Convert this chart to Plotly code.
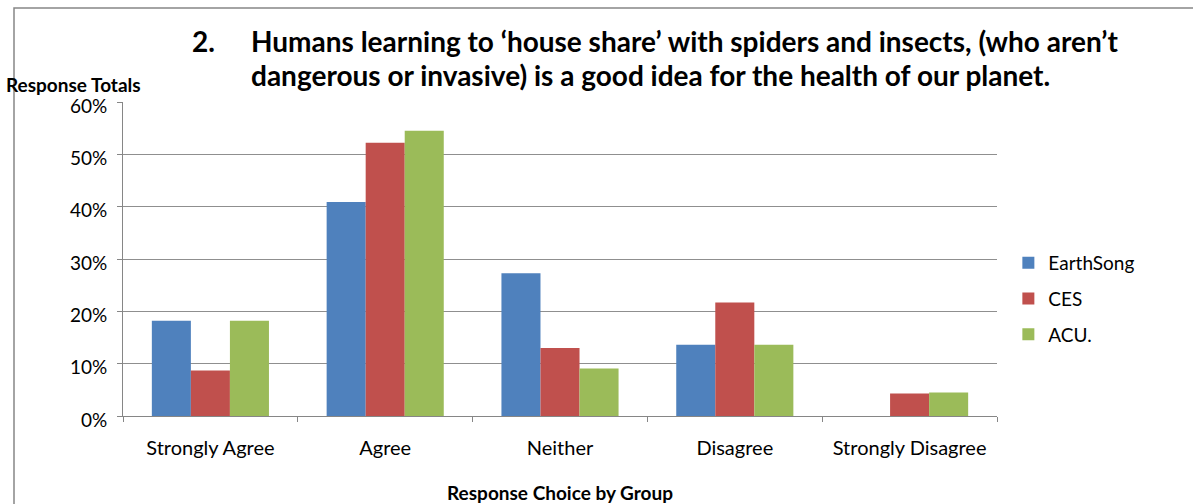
import plotly.graph_objects as go

categories = ["Strongly Agree", "Agree", "Neither", "Disagree", "Strongly Disagree"]
earthsong = [18.2, 40.9, 27.3, 13.6, 0.0]
ces = [8.7, 52.2, 13.0, 21.7, 4.3]
acu = [18.2, 54.5, 9.1, 13.6, 4.5]
series = [("EarthSong", earthsong, "#4F81BD"), ("CES", ces, "#C0504D"), ("ACU.", acu, "#9BBB59")]
y_ticks = [0, 10, 20, 30, 40, 50, 60]
y_tick_labels = ["0%", "10%", "20%", "30%", "40%", "50%", "60%"]

FONT = "Lato"
fig = go.Figure()
for name, vals, col in series:
    fig.add_trace(go.Bar(x=categories, y=vals, name=name, marker=dict(color=col, line=dict(width=0)),
                         legendgroup=name))

fig.update_layout(
    width=1193, height=504,
    margin=dict(l=123, r=196, t=102, b=88),
    paper_bgcolor="white", plot_bgcolor="white",
    font=dict(family=FONT, size=19, color="#000000"),
    barmode="group", bargap=0.33, bargroupgap=0,
    showlegend=True,
    legend=dict(x=1.013, y=0.373, xanchor="left", yanchor="middle", font=dict(size=19, family=FONT),
                tracegroupgap=8, itemwidth=30, bgcolor="rgba(0,0,0,0)"),
    xaxis=dict(showline=True, linecolor="#868686", linewidth=1, ticks="outside", ticklen=5,
               tickcolor="#868686", tickson="boundaries", showgrid=False, automargin=False,
               tickfont=dict(size=20, family=FONT), ticklabelstandoff=14,
               title=dict(text="<b>Response Choice by Group</b>", font=dict(size=19, family=FONT), standoff=28)),
    yaxis=dict(range=[0, 60], tickvals=y_ticks, ticktext=y_tick_labels, showline=True,
               linecolor="#868686", linewidth=1, ticks="outside", ticklen=5, tickcolor="#868686",
               showgrid=True, gridcolor="#8f8f8f", gridwidth=1, zeroline=False, automargin=False,
               tickfont=dict(size=19, family=FONT), ticklabelstandoff=6, ticklabelshift=4),
)

fig.add_annotation(text="<b>2.</b>",
                   xref="paper", yref="paper", x=(190 - 123) / 874, y=(504 - 41 - 88) / 314, xanchor="left", yanchor="middle",
                   showarrow=False, font=dict(size=28, family=FONT))
fig.add_annotation(text="<b>Humans learning to \u2018house share\u2019 with spiders and insects, (who aren\u2019t</b>",
                   xref="paper", yref="paper", x=(249 - 123) / 874, y=(504 - 41 - 88) / 314, xanchor="left", yanchor="middle",
                   showarrow=False, font=dict(size=28, family=FONT))
fig.add_annotation(text="<b>dangerous or invasive) is a good idea for the health of our planet.</b>",
                   xref="paper", yref="paper", x=(650 - 123) / 874, y=(504 - 75 - 88) / 314, xanchor="center", yanchor="middle",
                   showarrow=False, font=dict(size=28, family=FONT))
fig.add_annotation(text="<b>Response Totals</b>", xref="paper", yref="paper",
                   x=(4 - 123) / 874, y=(504 - 84 - 88) / 314, xanchor="left", yanchor="middle",
                   showarrow=False, font=dict(size=19, family=FONT))
fig.add_shape(type="rect", xref="paper", yref="paper",
              x0=(14 - 123) / 874, x1=(1250 - 123) / 874, y0=(88 - 560) / 314, y1=(504 - 8 - 88) / 314,
              line=dict(color="#868686", width=1.5), fillcolor="rgba(0,0,0,0)", layer="below")

fig.write_html("out.html", config={"displayModeBar": False},
               post_script="document.body.style.margin='0';document.body.style.overflow='hidden';")
